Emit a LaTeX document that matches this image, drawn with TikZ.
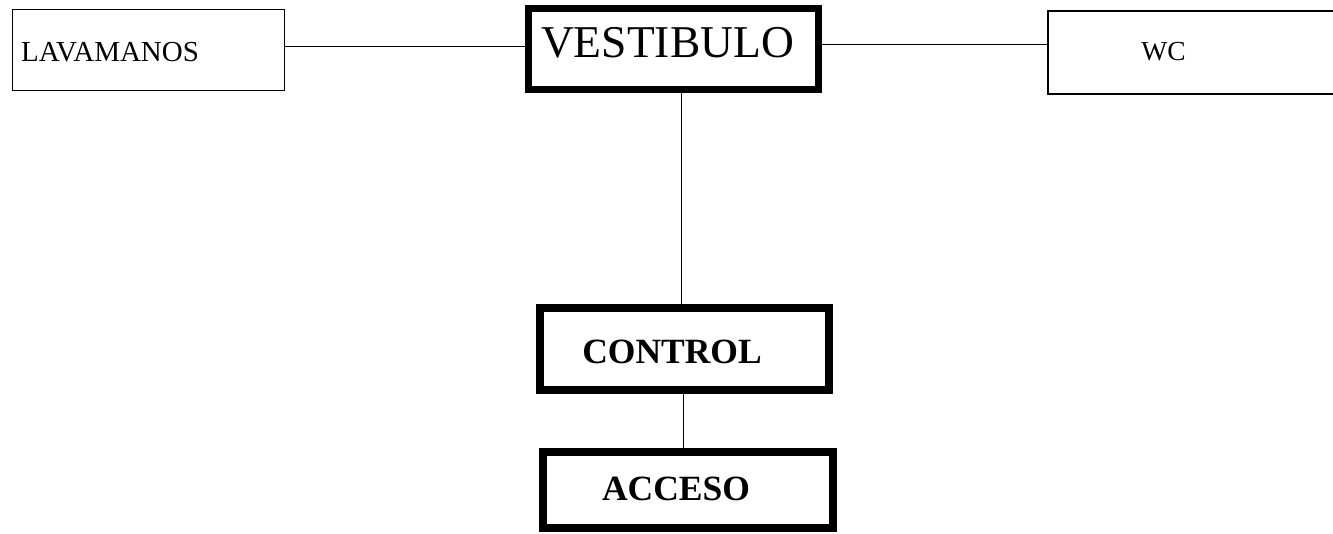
\documentclass[tikz,border=0pt]{standalone}
\usepackage{fontspec}
\setmainfont{Liberation Serif}
\begin{document}
\begin{tikzpicture}[x=1pt,y=-1pt,
  thin box/.style={draw,line width=1.2pt,inner sep=0pt,outer sep=0pt},
  thick box/.style={draw,line width=7.5pt,inner sep=0pt},
  lbl/.style={inner sep=0pt,anchor=base},
  link/.style={line width=1pt}]
\useasboundingbox (0,0) rectangle (1333,533);
\clip (0,0) rectangle (1333,533);
\fill[white] (0,0) rectangle (1333,533);
% boxes
\node[thin box,minimum width=272pt,minimum height=81pt] (lav) at (148.5,50) {};
\node[thick box,minimum width=290pt,minimum height=81pt] (vest) at (673.5,49) {};
\node[thin box,minimum width=296pt,minimum height=83pt] (wc) at (1196,52.5) {};
\node[thick box,minimum width=289pt,minimum height=82pt] (ctrl) at (684.5,349) {};
\node[thick box,minimum width=290pt,minimum height=76pt] (acc) at (688,490) {};
% labels
\node[lbl,anchor=base west] (tlav) at (21,61) {\fontsize{29}{33}\selectfont LAVAMANOS};
\node[lbl] (tvest) at (667.5,57) {\fontsize{45.5}{50}\selectfont VESTIBULO};
\node[lbl] (twc) at (1163.5,60) {\fontsize{27.5}{31}\selectfont WC};
\node[lbl] (tctrl) at (672,363) {\fontsize{35.5}{40}\selectfont\bfseries CONTROL};
\node[lbl] (tacc) at (676,500) {\fontsize{35.5}{40}\selectfont\bfseries ACCESO};
% connectors
\draw[link] (lav.east |- 0,46) -- (vest.west |- 0,46);
\draw[link] (vest.east |- 0,44) -- (wc.west |- 0,44);
\draw[link] (vest.south -| 681,0) -- (ctrl.north -| 681,0);
\draw[link] (ctrl.south -| 683,0) -- (acc.north -| 683,0);
\end{tikzpicture}
\end{document}
